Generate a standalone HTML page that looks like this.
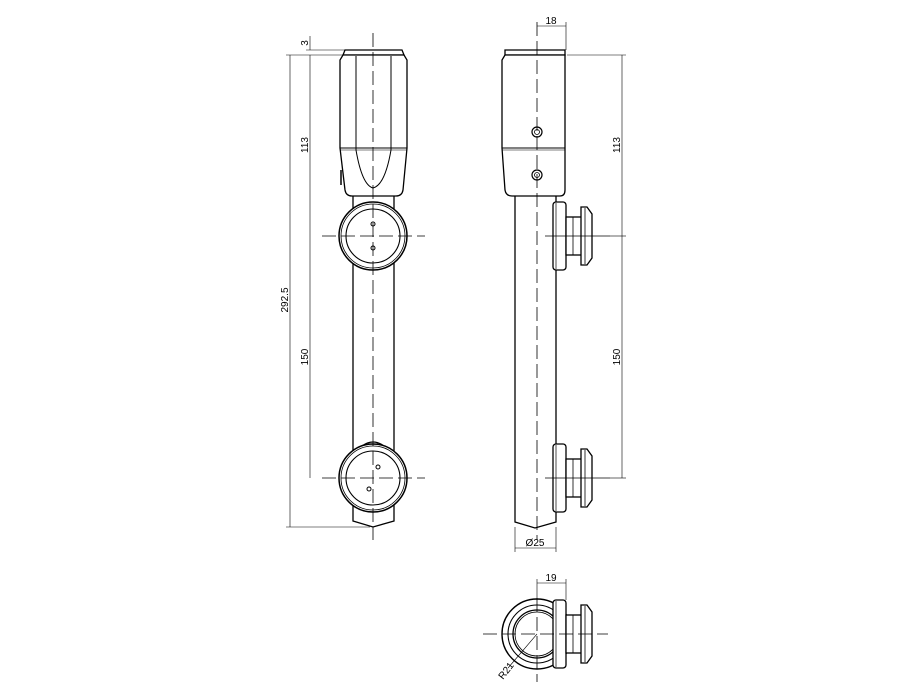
<!DOCTYPE html>
<html><head><style>body{margin:0;background:#fff}svg{display:block}</style></head><body>
<svg width="900" height="700" viewBox="0 0 900 700" xmlns="http://www.w3.org/2000/svg" font-family="Liberation Sans, sans-serif" font-size="10">
<defs>
<g id="knob" fill="#fff" stroke="#000" stroke-width="1.3">
<rect x="553" y="-34" width="13" height="68" rx="3"/>
<line x1="556" y1="-33" x2="556" y2="33" stroke-width="0.7"/>
<rect x="566" y="-19" width="16" height="38"/>
<line x1="573" y1="-19" x2="573" y2="19" stroke-width="0.8"/>
<path d="M581,-29 L587,-29 L592,-22 L592,22 L587,29 L581,29 Z"/>
<line x1="585" y1="-28" x2="585" y2="28" stroke-width="0.8"/>
</g>
</defs>
<g stroke="#000" fill="none">
<!-- LEFT VIEW -->
<path d="M353,196 L353,521 L373,527 L394,521 L394,196" stroke-width="1.3" fill="#fff"/>
<path d="M343,55 L345,50 L402,50 L404,55 Z" stroke-width="1.3" fill="#fff"/>
<path d="M343,55 L340,60 L340,148 L345,190 Q346,196 352,196 L396,196 Q402,196 403,190 L407,148 L407,60 L404,55 Z" stroke-width="1.3" fill="#fff"/>
<line x1="340" y1="148" x2="407" y2="148" stroke-width="1"/>
<line x1="340" y1="150" x2="407" y2="150" stroke-width="0.6"/>
<path d="M356,56 L356,150 Q362,185 373,188 Q385,185 391,150 L391,56" stroke-width="1"/>
<line x1="341" y1="170" x2="341" y2="185" stroke-width="1.5"/>
<circle cx="373" cy="236" r="34" stroke-width="1.5" fill="#fff"/>
<circle cx="373" cy="236" r="32" stroke-width="0.8"/>
<circle cx="373" cy="236" r="27" stroke-width="1.1"/>
<circle cx="373" cy="224" r="2" stroke-width="1"/>
<circle cx="373" cy="248" r="2" stroke-width="1"/>
<path d="M362,446 Q373,438 384,446" stroke-width="1.3"/>
<circle cx="373" cy="478" r="34" stroke-width="1.5" fill="#fff"/>
<circle cx="373" cy="478" r="32" stroke-width="0.8"/>
<circle cx="373" cy="478" r="27" stroke-width="1.1"/>
<circle cx="378" cy="467" r="2" stroke-width="1"/>
<circle cx="369" cy="489" r="2" stroke-width="1"/>
<g stroke-width="0.8" stroke-dasharray="14,5">
<line x1="373" y1="33" x2="373" y2="540"/>
<line x1="322" y1="236" x2="425" y2="236"/>
<line x1="322" y1="478" x2="425" y2="478"/>
</g>
<g stroke-width="0.6">
<line x1="290" y1="55" x2="290" y2="527"/>
<line x1="310" y1="55" x2="310" y2="478"/>
<line x1="286" y1="55" x2="343" y2="55"/>
<line x1="306" y1="50" x2="345" y2="50"/>
<line x1="286" y1="527" x2="370" y2="527"/>
<line x1="310" y1="36" x2="310" y2="50"/>
</g>
<!-- MIDDLE VIEW -->
<path d="M515,196 L515,522 L535,528 L556,522 L556,196" stroke-width="1.3" fill="#fff"/>
<path d="M505,55 L505,50 L565,50 L565,55 Z" stroke-width="1.3" fill="#fff"/>
<path d="M505,55 L502,60 L502,148 L505,190 Q506,196 512,196 L560,196 Q565,196 565,190 L565,55 Z" stroke-width="1.3" fill="#fff"/>
<line x1="502" y1="148" x2="565" y2="148" stroke-width="1"/>
<line x1="502" y1="150" x2="565" y2="150" stroke-width="0.6"/>
<circle cx="537" cy="132" r="5" stroke-width="1.2"/><circle cx="537" cy="132" r="2.5" stroke-width="0.8"/>
<circle cx="537" cy="175" r="5" stroke-width="1.2"/><circle cx="537" cy="175" r="2.5" stroke-width="0.8"/>
<use href="#knob" transform="translate(0,236)"/>
<use href="#knob" transform="translate(0,478)"/>
<g stroke-width="0.8" stroke-dasharray="14,5">
<line x1="537" y1="22" x2="537" y2="540"/>
</g>
<g stroke-width="0.7">
<line x1="545" y1="236" x2="610" y2="236"/>
<line x1="545" y1="478" x2="610" y2="478"/>
</g>
<g stroke-width="0.6">
<line x1="622" y1="55" x2="622" y2="478"/>
<line x1="567" y1="55" x2="626" y2="55"/>
<line x1="610" y1="236" x2="626" y2="236"/>
<line x1="610" y1="478" x2="626" y2="478"/>
<line x1="537" y1="26" x2="566" y2="26"/>
<line x1="566" y1="22" x2="566" y2="50"/>
<line x1="515" y1="527" x2="515" y2="552"/>
<line x1="556" y1="527" x2="556" y2="552"/>
<line x1="515" y1="548" x2="556" y2="548"/>
</g>
<!-- BOTTOM VIEW -->
<circle cx="537" cy="634" r="35" stroke-width="1.4" fill="#fff"/>
<circle cx="537" cy="634" r="29" stroke-width="1.1"/>
<circle cx="537" cy="634" r="24" stroke-width="1.3"/>
<circle cx="537" cy="634" r="22" stroke-width="0.8"/>
<use href="#knob" transform="translate(0,634)"/>
<g stroke-width="0.8" stroke-dasharray="14,5">
<line x1="483" y1="634" x2="608" y2="634"/>
<line x1="537" y1="598" x2="537" y2="682"/>
</g>
<g stroke-width="0.6">
<line x1="537" y1="583" x2="566" y2="583"/>
<line x1="537" y1="579" x2="537" y2="600"/>
<line x1="566" y1="579" x2="566" y2="600"/>
<line x1="537" y1="634" x2="508" y2="668"/>
</g>
</g>
<g fill="#000">
<text x="0" y="0" transform="translate(288,300) rotate(-90)" text-anchor="middle">292.5</text>
<text x="0" y="0" transform="translate(308,145) rotate(-90)" text-anchor="middle">113</text>
<text x="0" y="0" transform="translate(308,357) rotate(-90)" text-anchor="middle">150</text>
<text x="0" y="0" transform="translate(308,43) rotate(-90)" text-anchor="middle">3</text>
<text x="0" y="0" transform="translate(620,145) rotate(-90)" text-anchor="middle">113</text>
<text x="0" y="0" transform="translate(620,357) rotate(-90)" text-anchor="middle">150</text>
<text x="551" y="24" text-anchor="middle">18</text>
<text x="535" y="546" text-anchor="middle">Ø25</text>
<text x="551" y="581" text-anchor="middle">19</text>
<text x="0" y="0" transform="translate(503,680) rotate(-52)">R21</text>
</g>
</svg>
</body></html>
